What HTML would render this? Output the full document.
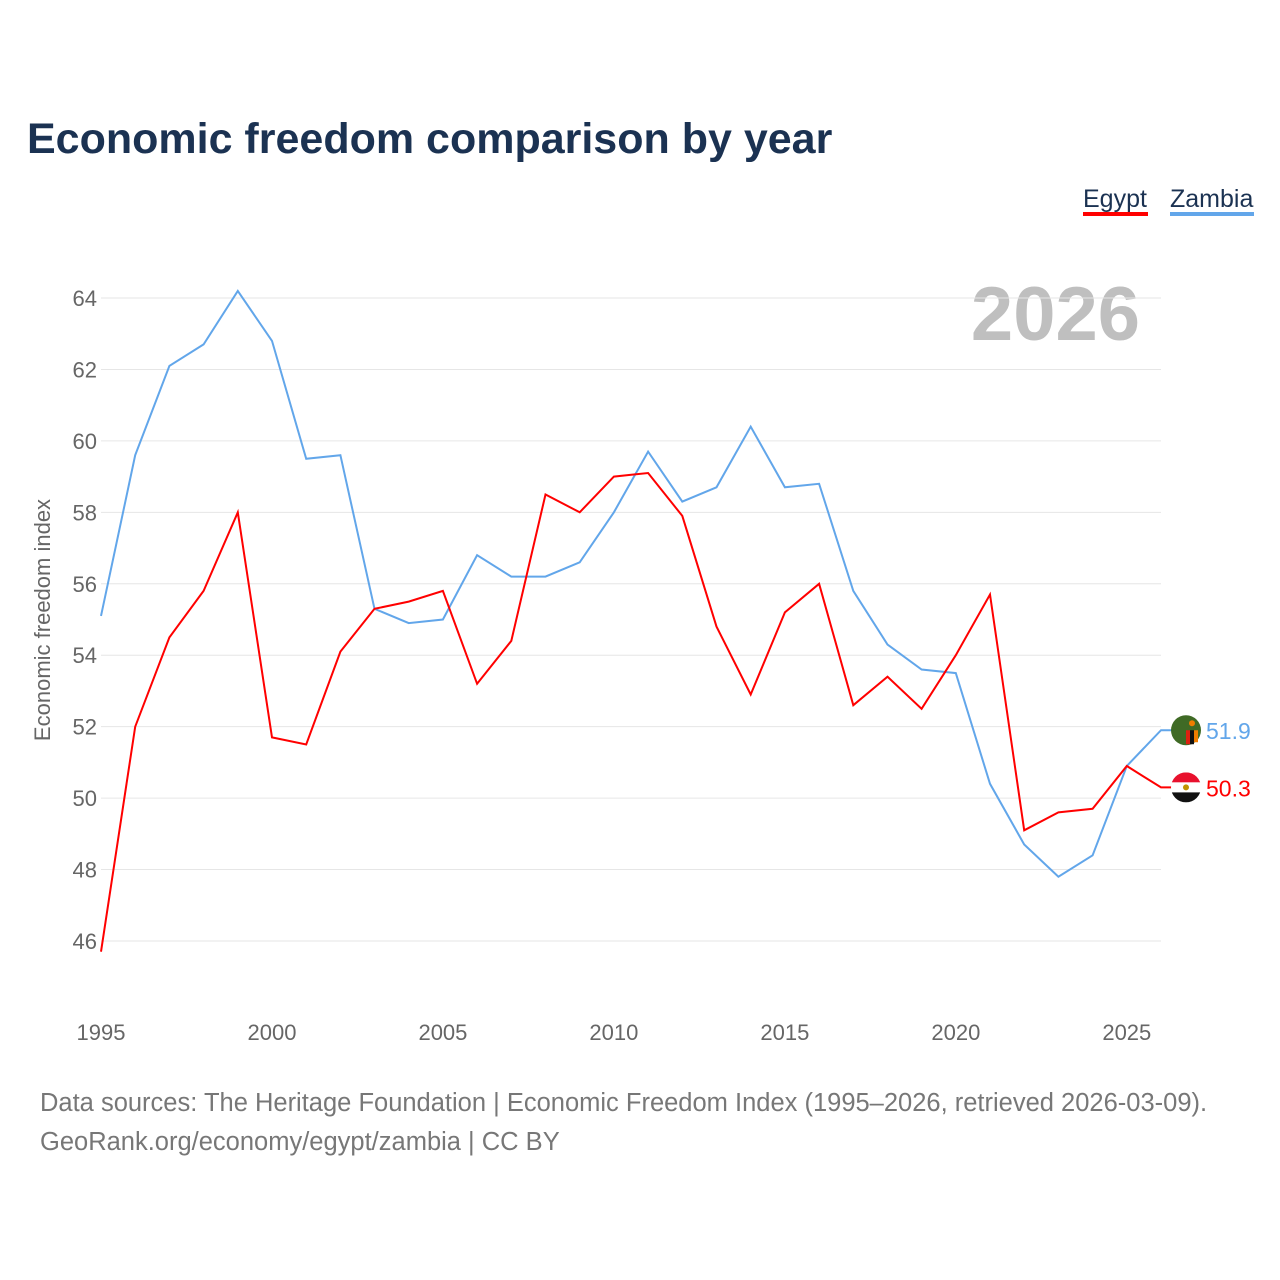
<!DOCTYPE html>
<html><head><meta charset="utf-8">
<style>
body{margin:0;background:#fff;font-family:"Liberation Sans",sans-serif;}
#wrap{position:relative;width:1280px;height:1280px;overflow:hidden;}
</style></head>
<body>
<div id="wrap">
<svg id="chart" width="1280" height="1280" xmlns="http://www.w3.org/2000/svg">
<text x="27" y="153" font-size="43" font-weight="bold" fill="#1b3252" font-family="Liberation Sans, sans-serif">Economic freedom comparison by year</text>
<g>
<text x="1083" y="207" font-size="25" fill="#1b3252">Egypt</text>
<rect x="1083" y="212" width="65" height="4" fill="#ff0000"/>
<text x="1170" y="207" font-size="25" fill="#1b3252">Zambia</text>
<rect x="1170" y="212" width="84" height="4" fill="#62a6ea"/>
</g>
<text x="1140" y="340" font-size="76" font-weight="bold" fill="#bfbfbf" text-anchor="end">2026</text>
<text transform="translate(50,620) rotate(-90)" font-size="22" fill="#666" text-anchor="middle">Economic freedom index</text>
<g id="grid"></g><g id="lines"></g>
<text x="40" y="1111" font-size="25.5" fill="#777">Data sources: The Heritage Foundation | Economic Freedom Index (1995–2026, retrieved 2026-03-09).</text>
<text x="40" y="1150" font-size="25.5" fill="#777">GeoRank.org/economy/egypt/zambia | CC BY</text>
</svg>
</div>
<script>
const years = [1995,1996,1997,1998,1999,2000,2001,2002,2003,2004,2005,2006,2007,2008,2009,2010,2011,2012,2013,2014,2015,2016,2017,2018,2019,2020,2021,2022,2023,2024,2025,2026];
const egypt = [45.7,52.0,54.5,55.8,58.0,51.7,51.5,54.1,55.3,55.5,55.8,53.2,54.4,58.5,58.0,59.0,59.1,57.9,54.8,52.9,55.2,56.0,52.6,53.4,52.5,54.0,55.7,49.1,49.6,49.7,50.9,50.3];
const zambia = [55.1,59.6,62.1,62.7,64.2,62.8,59.5,59.6,55.3,54.9,55.0,56.8,56.2,56.2,56.6,58.0,59.7,58.3,58.7,60.4,58.7,58.8,55.8,54.3,53.6,53.5,50.4,48.7,47.8,48.4,50.9,51.9];
const yTicks = [46,48,50,52,54,56,58,60,62,64];
const xTicks = [1995,2000,2005,2010,2015,2020,2025];
const NS="http://www.w3.org/2000/svg";
function X(y){return 101+(y-1995)*(1161-101)/31;}
function Y(v){return 298+(64-v)*(941-298)/18;}
function mk(t,a,p){const e=document.createElementNS(NS,t);for(const k in a)e.setAttribute(k,a[k]);p.appendChild(e);return e;}
const grid=document.getElementById('grid'), lines=document.getElementById('lines');
yTicks.forEach(v=>{
  const l=mk('line',{x1:101,x2:1161,y1:Y(v),y2:Y(v),stroke:'#e6e6e6','stroke-width':1},grid);
  
  
  const t=mk('text',{x:97,y:Y(v)+8,'font-size':22,fill:'#666','text-anchor':'end'},grid);
  t.textContent=v;
  
  
});
xTicks.forEach(v=>{
  const t=mk('text',{x:X(v),y:1040,'font-size':22,fill:'#666','text-anchor':'middle'},grid);
  t.textContent=v;
  
  
});
function series(vals,color,name){
  const last=vals[vals.length-1], cy=Y(last), cx=1186;
  const d=vals.map((v,i)=>(i?'L':'M')+X(years[i]).toFixed(1)+','+Y(v).toFixed(1)).join('')+'L'+(cx-12)+','+cy.toFixed(1);
  const p=mk('path',{d:d,fill:'none',stroke:color,'stroke-width':2},lines);
  
  
  const g=mk('g',{},lines);
  
  
  if(name==='egypt'){
    const cp=mk('clipPath',{id:'ce'},g);
    mk('circle',{cx:cx,cy:cy,r:15},cp);
    const gg=mk('g',{'clip-path':'url(#ce)'},g);
    mk('rect',{x:cx-15,y:cy-15,width:30,height:10,fill:'#e8112d'},gg);
    mk('rect',{x:cx-15,y:cy-5,width:30,height:10,fill:'#fff'},gg);
    mk('rect',{x:cx-15,y:cy+5,width:30,height:10,fill:'#111'},gg);
    mk('circle',{cx:cx,cy:cy,r:3,fill:'#c09300'},gg);
  } else {
    mk('circle',{cx:cx,cy:cy,r:15,fill:'#3f6a25'},g);
    mk('rect',{x:cx,y:cy,width:4,height:14,fill:'#de2010'},g);
    mk('rect',{x:cx+4,y:cy,width:4,height:14,fill:'#111'},g);
    mk('rect',{x:cx+8,y:cy,width:4,height:12,fill:'#ef7d00'},g);
    mk('circle',{cx:cx+6,cy:cy-7,r:3,fill:'#ef7d00'},g);
  }
  const t=mk('text',{x:1206,y:cy+9,'font-size':23,fill:color},lines);
  t.textContent=last.toFixed(1);
  
  
}
series(zambia,'#62a6ea','zambia');
series(egypt,'#ff0000','egypt');
</script>
</body></html>
